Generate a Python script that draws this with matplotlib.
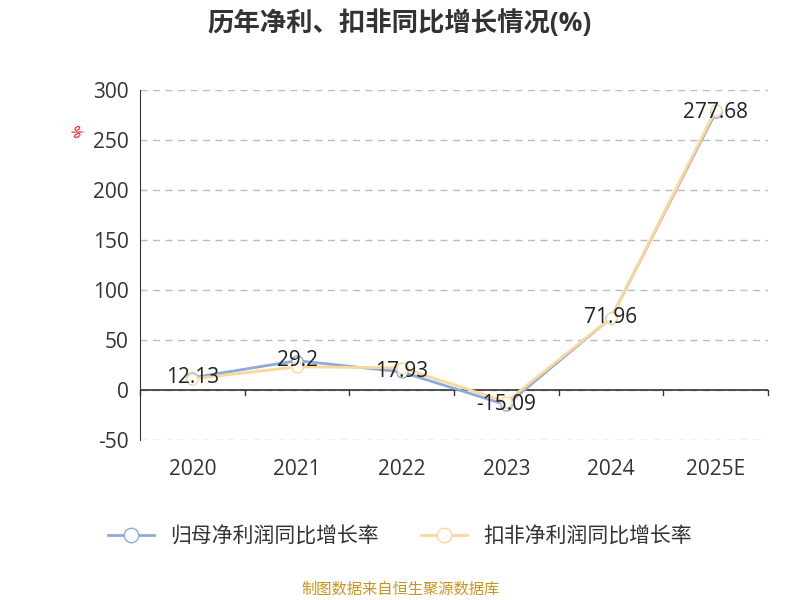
import matplotlib
matplotlib.use("Agg")
import matplotlib.pyplot as plt

plt.rcParams['font.family'] = ['Open Sans', 'Noto Sans CJK SC', 'DejaVu Sans']
plt.rcParams['axes.unicode_minus'] = False

years = ["2020", "2021", "2022", "2023", "2024", "2025E"]
net_growth = [12.13, 29.2, 17.93, -15.09, 71.96, 277.68]
deducted_growth = [11.0, 23.0, 22.0, -12.0, 72.0, 280.0]
labels = ["12.13", "29.2", "17.93", "-15.09", "71.96", "277.68"]

fig = plt.figure(figsize=(8, 6), dpi=100)
ax = fig.add_axes([0.175, 0.267, 0.785, 0.583])
x = list(range(len(years)))
ax.plot(x, net_growth, color="#8eaadb", lw=2, marker="o", ms=8, mfc="white", mec="#8eaadb", label="归母净利润同比增长率", zorder=3)
ax.plot(x, deducted_growth, color="#fbd89a", lw=2, marker="o", ms=8, mfc="white", mec="#fbd89a", label="扣非净利润同比增长率", zorder=4)
for xi, v, t in zip(x, net_growth, labels):
    ax.text(xi, v, t, ha="center", va="center", fontsize=15, color="#222222", zorder=5)

ax.set_xlim(-0.5, 5.5)
ax.set_ylim(-50, 300)
ax.set_yticks(range(-50, 301, 50))
ax.set_xticks(x)
ax.set_xticklabels(years)
ax.tick_params(axis="both", labelsize=15, colors="#333333", length=0, pad=8)
ax.tick_params(axis="x", pad=14)
ax.grid(axis="y", linestyle=(0, (5, 4)), color="#bbbbbb", lw=1)
for s in ["top", "right", "bottom"]:
    ax.spines[s].set_visible(False)
ax.spines["left"].set_color("#333333")
ax.axhline(0, color="#333333", lw=1.2, zorder=2)
for b in [i + 0.5 for i in range(-1, 6)]:
    ax.plot([b, b], [0, -5], color="#333333", lw=1, clip_on=False)
fig.text(0.093, 0.78, "%", color="red", fontsize=10, rotation=-60, ha="center", va="center")

fig.text(0.5, 0.962, "历年净利、扣非同比增长情况(%)", ha="center", va="center", fontsize=19, fontweight="bold", color="#333333")
fig.legend(loc="center", bbox_to_anchor=(0.5, 0.105), ncol=2, frameon=False, fontsize=15, handlelength=2.2, columnspacing=2, labelcolor="#333333", markerscale=1.3)
fig.text(0.5, 0.017, "制图数据来自恒生聚源数据库", ha="center", va="center", fontsize=11, color="#c8961e")
fig.savefig("out.png", dpi=100)
